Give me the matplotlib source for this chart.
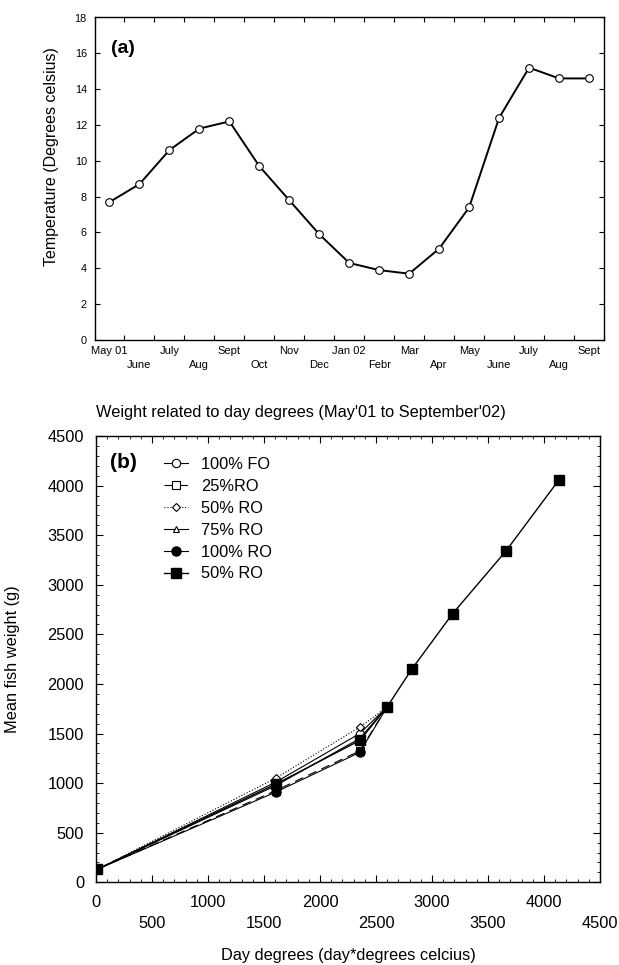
import matplotlib
matplotlib.use('Agg')
import matplotlib.pyplot as plt
from matplotlib.ticker import MultipleLocator, FixedLocator

plt.rcParams['font.family'] = ['Liberation Sans', 'DejaVu Sans']

# (a) monthly water temperature
months = ['May 01', 'June', 'July', 'Aug', 'Sept', 'Oct', 'Nov', 'Dec', 'Jan 02',
          'Febr', 'Mar', 'Apr', 'May', 'June', 'July', 'Aug', 'Sept']
temps = [7.7, 8.7, 10.6, 11.8, 12.2, 9.7, 7.8, 5.9, 4.3, 3.9, 3.7, 5.1, 7.4,
         12.4, 15.2, 14.6, 14.6]

# (b) mean fish weight vs day degrees
day_deg = [10, 1605, 2355, 2600, 2820, 3185, 3660, 4135]
fo100 = [130, 1010, 1500, 1770]
ro25 = [130, 925, 1325, 1770]
ro50 = [130, 1050, 1565, 1770]
ro75 = [130, 975, 1450, 1770]
ro100 = [130, 910, 1310, 1770]
ro50b = [130, 990, 1430, 1770, 2150, 2710, 3340, 4060]

W, H = 619, 965
fig = plt.figure(figsize=(W / 100, H / 100), dpi=100)


def box(l, t, r, b):
    return [l / W, 1 - b / H, (r - l) / W, (b - t) / H]


# ---- top panel ----
ax1 = fig.add_axes(box(94.5, 17.5, 604, 340))
xs = [i + 0.5 for i in range(len(months))]
ax1.plot(xs, temps, color='black', lw=1.4, marker='o', ms=5.5,
         mfc='white', mec='black', mew=0.8)
ax1.set_xlim(0, len(months))
ax1.set_ylim(0, 18)
ax1.yaxis.set_major_locator(MultipleLocator(2))
ax1.xaxis.set_major_locator(MultipleLocator(1))
ax1.xaxis.set_minor_locator(FixedLocator(xs))
ax1.set_xticklabels([], minor=False)
ax1.set_xticklabels([m if i % 2 == 0 else '\n' + m for i, m in enumerate(months)],
                    minor=True, linespacing=1.5)
ax1.tick_params(which='major', direction='in', length=3.5, width=0.8,
                top=True, right=True, labelsize=7.8, pad=5.5)
ax1.tick_params(axis='x', which='minor', length=0, labelsize=8, pad=4)
ax1.set_ylabel('Temperature (Degrees celsius)', fontsize=11.5)
ax1.yaxis.set_label_coords(-0.07, 0.57)
ax1.text(0.033, 0.905, '(a)', transform=ax1.transAxes, fontsize=14,
         fontweight='bold', va='center')
for s in ax1.spines.values():
    s.set_linewidth(1.0)

# ---- bottom panel ----
ax2 = fig.add_axes(box(96, 436, 600, 882.3))
ax2.plot(day_deg[:4], fo100, color='black', lw=0.8, marker='o', ms=6,
         mfc='white', mec='black', mew=0.8, label='100% FO')
ax2.plot(day_deg[:4], ro25, color='black', lw=0.8, dashes=(8, 5), marker='s', ms=6,
         mfc='white', mec='black', mew=0.8, label='25%RO')
ax2.plot(day_deg[:4], ro50, color='black', lw=0.8, ls=':', marker='D', ms=4.5,
         mfc='white', mec='black', mew=0.8, label='50% RO')
ax2.plot(day_deg[:4], ro75, color='black', lw=0.8, marker='^', ms=5,
         mfc='white', mec='black', mew=0.8, label='75% RO')
ax2.plot(day_deg[:4], ro100, color='black', lw=0.8, marker='o', ms=6.5,
         mfc='black', mec='black', label='100% RO')
ax2.plot(day_deg, ro50b, color='black', lw=1.0, marker='s', ms=7,
         mfc='black', mec='black', label='50% RO')
ax2.set_xlim(0, 4500)
ax2.set_ylim(0, 4500)
ax2.yaxis.set_major_locator(MultipleLocator(500))
ax2.xaxis.set_minor_locator(MultipleLocator(100))
ax2.yaxis.set_minor_locator(MultipleLocator(100))
xt = list(range(0, 4501, 500))
ax2.set_xticks(xt)
ax2.set_xticklabels([str(v) if i % 2 == 0 else '\n' + str(v) for i, v in enumerate(xt)],
                    linespacing=1.55)
ax2.tick_params(which='major', direction='in', length=5, width=0.8,
                top=True, right=True, labelsize=11.8)
ax2.tick_params(axis='y', which='major', pad=8.5)
ax2.tick_params(axis='x', which='major', pad=9)
ax2.tick_params(which='minor', direction='in', length=2.5, width=0.6,
                top=True, right=True)
ax2.set_xlabel('Day degrees (day*degrees celcius)', fontsize=11.8, labelpad=12)
ax2.set_ylabel('Mean fish weight (g)', fontsize=11.8)
ax2.yaxis.set_label_coords(-0.151, 0.5)
ax2.set_title("Weight related to day degrees (May'01 to September'02)",
              fontsize=11.8, loc='left', pad=14)
ax2.text(0.028, 0.94, '(b)', transform=ax2.transAxes, fontsize=15,
         fontweight='bold', va='center')
ax2.legend(loc='upper left', bbox_to_anchor=(164 / W, 1 - 457 / H),
           bbox_transform=fig.transFigure, frameon=False, fontsize=11.8,
           handlelength=1.45, handletextpad=0.8, labelspacing=0.42,
           borderpad=0, borderaxespad=0)
for s in ax2.spines.values():
    s.set_linewidth(1.0)

fig.savefig('out.png', dpi=100)
